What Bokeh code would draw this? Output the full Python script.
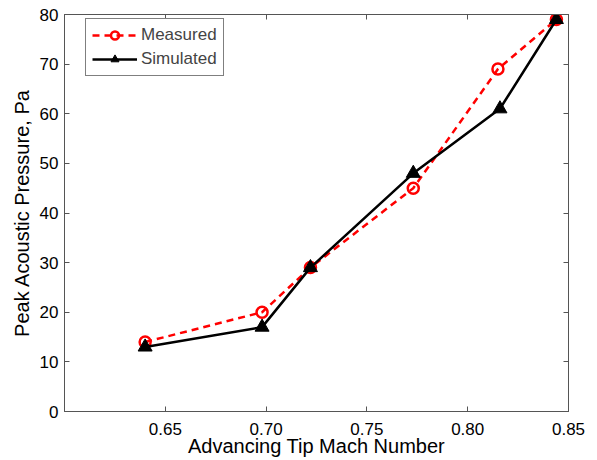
from bokeh.plotting import figure
from bokeh.models import LinearAxis, FixedTicker, Range1d, Legend, LegendItem
from bokeh.embed import file_html
from bokeh.resources import INLINE

mach_measured = [0.640, 0.698, 0.722, 0.773, 0.815, 0.844]
p_measured = [14, 20, 29, 45, 69, 79]
mach_simulated = [0.640, 0.698, 0.722, 0.773, 0.816, 0.844]
p_simulated = [13, 17, 29, 48, 61, 79]
x_ticks = [0.65, 0.70, 0.75, 0.80, 0.85]
x_tick_labels = {0.65: "0.65", 0.70: "0.70", 0.75: "0.75", 0.80: "0.80", 0.85: "0.85"}
y_ticks = [0, 10, 20, 30, 40, 50, 60, 70, 80]

FONT = "Liberation Sans"

p = figure(width=597, height=460, output_backend="svg", toolbar_location=None,
           x_range=Range1d(0.6, 0.85), y_range=Range1d(0, 80),
           min_border_left=64, min_border_right=29, min_border_top=14, min_border_bottom=49)
p.grid.visible = False
p.outline_line_color = "#555555"
p.background_fill_color = "white"
p.border_fill_color = "white"

def style(ax):
    ax.axis_line_color = "#555555"
    ax.major_tick_line_color = "#555555"
    ax.major_tick_in = 5
    ax.major_tick_out = 0
    ax.minor_tick_line_color = None
    ax.major_label_text_font = FONT
    ax.major_label_text_font_size = "17px"
    ax.major_label_text_color = "black"
    ax.axis_label_text_font = FONT
    ax.axis_label_text_font_size = "20px"
    ax.axis_label_text_font_style = "normal"
    ax.axis_label_text_color = "black"

xa = p.xaxis[0]
xa.ticker = FixedTicker(ticks=x_ticks)
xa.major_label_overrides = x_tick_labels
xa.axis_label = "Advancing Tip Mach Number"
xa.major_label_standoff = 11
xa.axis_label_standoff = -3
style(xa)

ya = p.yaxis[0]
ya.ticker = FixedTicker(ticks=y_ticks)
ya.axis_label = "Peak Acoustic Pressure, Pa"
ya.major_label_standoff = 6
ya.axis_label_standoff = 4
style(ya)

top = LinearAxis(ticker=FixedTicker(ticks=x_ticks), major_label_overrides={t: "" for t in x_ticks})
style(top)
top.major_label_standoff = 0
p.add_layout(top, "above")
right = LinearAxis(ticker=FixedTicker(ticks=y_ticks), major_label_overrides={t: "" for t in y_ticks})
style(right)
right.major_label_standoff = 0
p.add_layout(right, "right")

ml = p.line(mach_measured, p_measured, line_color="red", line_width=2.5, line_dash="7 5")
mc = p.scatter(mach_measured, p_measured, marker="circle", size=11, line_color="red",
               line_width=2.5, fill_color=None)
sl = p.line(mach_simulated, p_simulated, line_color="black", line_width=2.5)
st = p.scatter(mach_simulated, p_simulated, marker="triangle", size=14, line_color="black",
               fill_color="black")

legend = Legend(items=[LegendItem(label="Measured", renderers=[ml, mc]),
                       LegendItem(label="Simulated", renderers=[sl, st])],
                location=(21, 335))
legend.border_line_color = "black"
legend.border_line_width = 1
legend.label_text_font = FONT
legend.label_text_font_size = "17px"
legend.glyph_width = 45
legend.glyph_height = 20
legend.spacing = 4
legend.padding = 6
legend.margin = 0
legend.label_standoff = 4
legend.background_fill_alpha = 1
p.add_layout(legend)

open("out.html", "w").write(file_html(p, INLINE))
